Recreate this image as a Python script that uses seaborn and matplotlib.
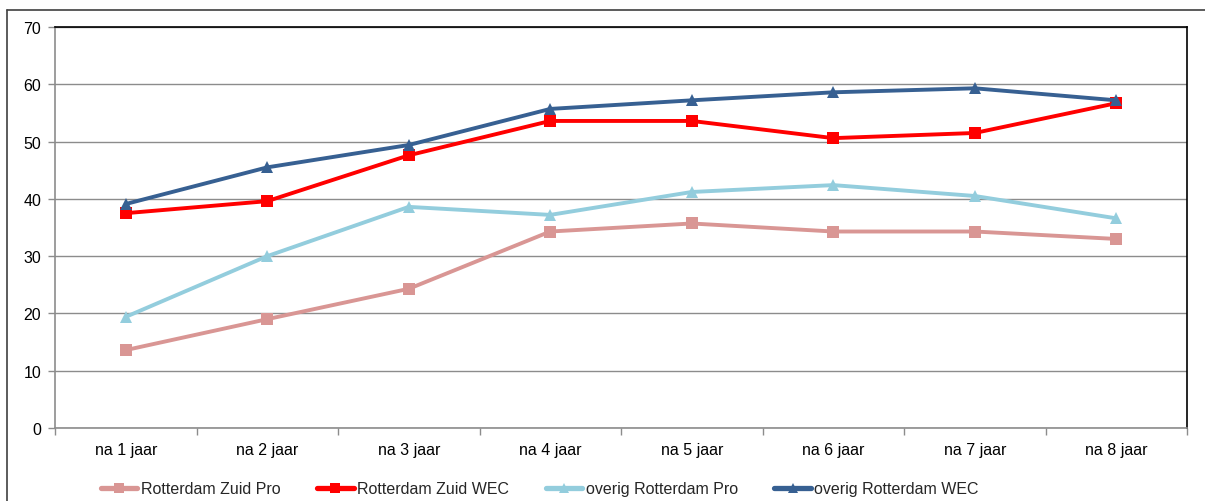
import matplotlib
matplotlib.use("Agg")
import matplotlib.pyplot as plt
import seaborn as sns
import pandas as pd
from matplotlib.lines import Line2D
from matplotlib.ticker import FixedLocator, MultipleLocator

categories = ["na 1 jaar", "na 2 jaar", "na 3 jaar", "na 4 jaar",
              "na 5 jaar", "na 6 jaar", "na 7 jaar", "na 8 jaar"]
zuid_pro = [13.6, 19.0, 24.3, 34.3, 35.7, 34.3, 34.3, 33.0]
zuid_wec = [37.5, 39.6, 47.6, 53.6, 53.6, 50.6, 51.5, 56.7]
overig_pro = [19.4, 30.0, 38.6, 37.2, 41.2, 42.4, 40.5, 36.6]
overig_wec = [39.1, 45.5, 49.4, 55.7, 57.2, 58.6, 59.3, 57.2]

series_names = ["Rotterdam Zuid Pro", "Rotterdam Zuid WEC",
                "overig Rotterdam Pro", "overig Rotterdam WEC"]
series_values = [zuid_pro, zuid_wec, overig_pro, overig_wec]
colors = ["#D99694", "#FF0000", "#93CDDD", "#376092"]
markers = ["s", "s", "^", "^"]

rows = []
for name, vals in zip(series_names, series_values):
    for c, v in zip(categories, vals):
        rows.append({"cat": c, "value": v, "series": name})
df = pd.DataFrame(rows)
df["cat"] = pd.Categorical(df["cat"], categories=categories, ordered=True)

sns.set_theme(style="white")
plt.rcParams["font.family"] = ["Liberation Sans", "DejaVu Sans"]
FS = 11.5

fig = plt.figure(figsize=(12.05, 5.02), dpi=100)
ax = fig.add_axes([55/1205, 1-429/502, (1187-55)/1205, (429-28)/502])

for name, col, mk in zip(series_names, colors, markers):
    sub = df[df["series"] == name]
    sns.lineplot(data=sub, x="cat", y="value", ax=ax, color=col, marker=mk,
                 markersize=8, markeredgewidth=0, linewidth=2.8,
                 label=name, sort=False)

ax.set_xlim(-0.5, 7.5)
ax.set_ylim(0, 70)
ax.yaxis.set_major_locator(MultipleLocator(10))
ax.grid(axis="y", color="#8C8C8C", linewidth=1.0)
ax.set_axisbelow(True)
ax.set_xlabel("")
ax.set_ylabel("")

ax.xaxis.set_major_locator(FixedLocator([i - 0.5 for i in range(len(categories) + 1)]))
ax.xaxis.set_minor_locator(FixedLocator(list(range(len(categories)))))
ax.set_xticklabels([], minor=False)
ax.set_xticklabels(categories, minor=True)
ax.tick_params(axis="x", which="major", length=5, width=1, color="#8C8C8C", direction="out", bottom=True)
ax.tick_params(axis="x", which="minor", length=0, labelsize=FS, pad=10, colors="black")
ax.tick_params(axis="y", which="major", length=5, width=1, color="#8C8C8C", direction="out",
               left=True, labelsize=FS, pad=5, labelcolor="black")

for s in ["left", "bottom"]:
    ax.spines[s].set_color("#8C8C8C")
    ax.spines[s].set_linewidth(1.2)
for s in ["top", "right"]:
    ax.spines[s].set_color("black")
    ax.spines[s].set_linewidth(1.2)
    ax.spines[s].set_visible(True)

ax.get_legend().remove()
handles = [Line2D([0], [0], color=c, marker=m, markersize=7.5, markeredgewidth=0, linewidth=3.8)
           for c, m in zip(colors, markers)]
fig.legend(handles, series_names, loc="center", bbox_to_anchor=(0.448, 1-490/502),
           ncol=4, frameon=False, fontsize=FS, handlelength=2.3, handletextpad=0.2,
           columnspacing=2.3, borderpad=0)

# outer chart border (left and top)
fig.add_artist(Line2D([7/1205, 7/1205], [0, 1-11/502], color="#404040", linewidth=1.2,
                      transform=fig.transFigure))
fig.add_artist(Line2D([7/1205, 1], [1-11/502, 1-11/502], color="#404040", linewidth=1.2,
                      transform=fig.transFigure))

fig.savefig("out.png", dpi=100, facecolor="white")
